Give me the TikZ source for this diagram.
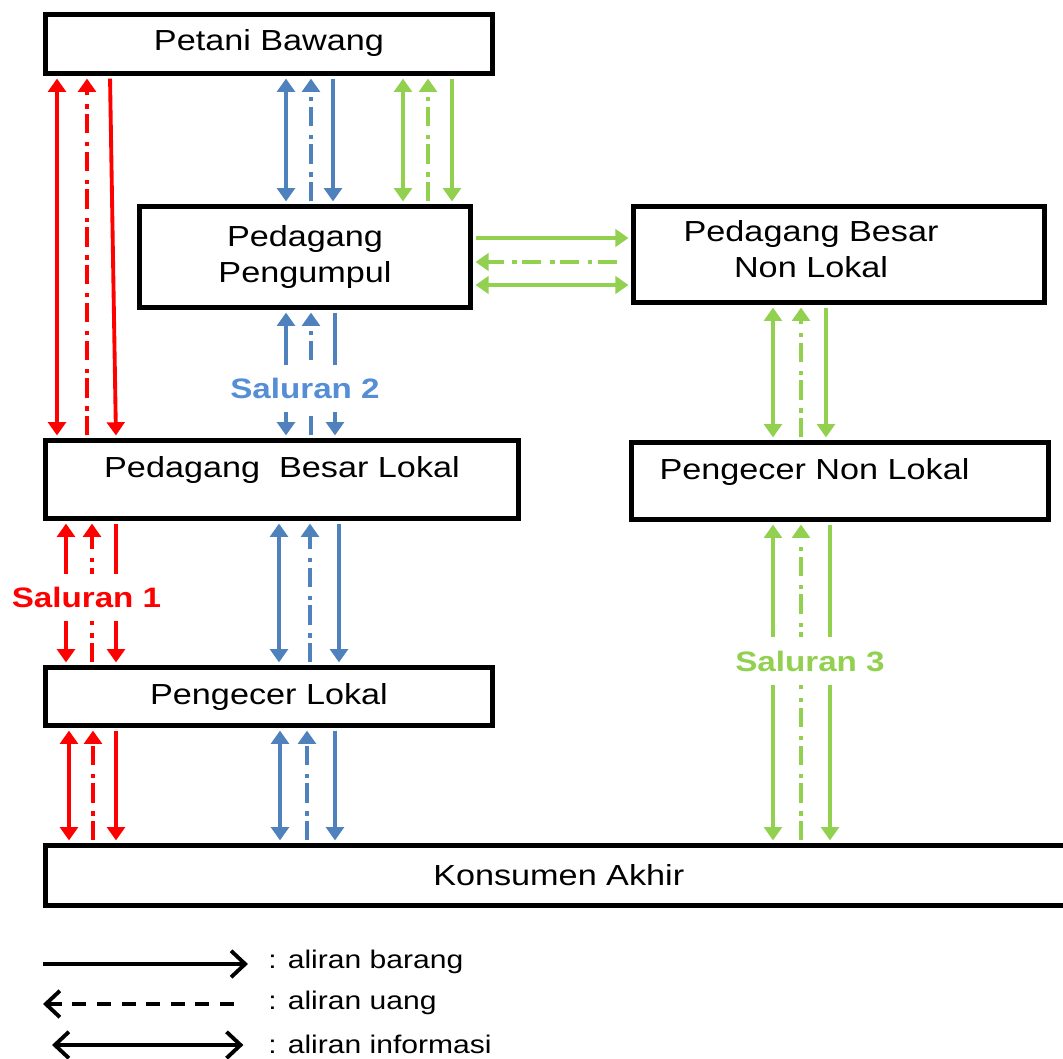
\documentclass[tikz,border=0pt]{standalone}
\usepackage{fontspec}
\setmainfont{Liberation Sans}[FakeStretch=1.18]
\usetikzlibrary{arrows.meta,calc}
\definecolor{salA}{HTML}{FF0000}
\definecolor{salB}{HTML}{4F81BD}
\definecolor{salBtext}{HTML}{558ED5}
\definecolor{salC}{HTML}{92D050}

\begin{document}
\begin{tikzpicture}[x=0.02cm, y=-0.02cm,
    box/.style={draw, rectangle, line width=2.8pt, align=center, font=\fontsize{16.5}{20.5}\selectfont},
    boxtext/.style={align=center, font=\fontsize{16.5}{20.5}\selectfont},
    flow/.style={line width=2.2pt, shorten <=1.5pt, shorten >=1.5pt},
    barang/.style={flow, -{Triangle[width=10pt,length=7.5pt]}},
    uang/.style={flow, dash pattern=on 11pt off 3pt on 2.5pt off 5pt, -{Triangle[width=10pt,length=7.5pt]}},
    info/.style={flow, {Triangle[width=10pt,length=7.5pt]}-{Triangle[width=10pt,length=7.5pt]}},
    saluran/.style={fill=white, inner xsep=2pt, inner ysep=7.5pt, font=\fontsize{16}{19}\selectfont\bfseries},
    legtext/.style={anchor=west, inner sep=0pt, font=\fontsize{14.5}{17}\selectfont},
    legline/.style={line width=2.2pt, black, >={Straight Barb[length=8pt,width=15pt]}}]
    \useasboundingbox (0,0) rectangle (1063,1059);

    \node (petani) [box, minimum width=8.94cm, minimum height=1.18cm, text height=12pt, text depth=5pt] at (269,44) {Petani Bawang};
    \node (pp) [box, minimum width=6.62cm, minimum height=2.02cm] at (305,257) {Pedagang\\Pengumpul};
    \node (pbnl) [box, minimum width=8.22cm, minimum height=1.92cm,
        label={[boxtext, xshift=-15.9pt, yshift=2.8pt]center:{Pedagang Besar\\Non Lokal}}] at (839,254.5) {};
    \node (pbl) [box, minimum width=9.46cm, minimum height=1.56cm, text height=12pt, text depth=14.4pt] at (282,479.5) {Pedagang\ \ Besar Lokal};
    \node (pnl) [box, minimum width=8.34cm, minimum height=1.54cm,
        label={[boxtext, xshift=-14.5pt, yshift=5pt]center:{Pengecer Non Lokal}}] at (840,481) {};
    \node (pl) [box, minimum width=8.94cm, minimum height=1.16cm] at (269,696.5) {Pengecer Lokal};
    \node (kon) [box, minimum width=20.53cm, minimum height=1.2cm] at (558.75,875.5) {Konsumen Akhir};

    % saluran 1
    \draw [info, salA] (petani.south -| 57,0) -- (pbl.north -| 57,0);
    \draw [uang, salA] (pbl.north -| 87,0) -- (petani.south -| 87,0);
    \draw [barang, salA] (petani.south -| 110,0) -- (pbl.north -| 116,0);
    \draw [info, salA] (pbl.south -| 66,0) -- (pl.north -| 66,0);
    \draw [uang, salA] (pl.north -| 92,0) -- (pbl.south -| 92,0);
    \draw [barang, salA] (pbl.south -| 116,0) -- (pl.north -| 116,0);
    \draw [info, salA] (pl.south -| 69,0) -- (kon.north -| 69,0);
    \draw [uang, salA] (kon.north -| 93,0) -- (pl.south -| 93,0);
    \draw [barang, salA] (pl.south -| 116,0) -- (kon.north -| 116,0);

    % saluran 2
    \draw [info, salB] (petani.south -| 286,0) -- (pp.north -| 286,0);
    \draw [uang, salB] (pp.north -| 311,0) -- (petani.south -| 311,0);
    \draw [barang, salB] (petani.south -| 333,0) -- (pp.north -| 333,0);
    \draw [info, salB] (pp.south -| 286,0) -- (pbl.north -| 286,0);
    \draw [uang, salB] (pbl.north -| 311,0) -- (pp.south -| 311,0);
    \draw [barang, salB] (pp.south -| 335,0) -- (pbl.north -| 335,0);
    \draw [info, salB] (pbl.south -| 279,0) -- (pl.north -| 279,0);
    \draw [uang, salB] (pl.north -| 310,0) -- (pbl.south -| 310,0);
    \draw [barang, salB] (pbl.south -| 339,0) -- (pl.north -| 339,0);
    \draw [info, salB] (pl.south -| 280,0) -- (kon.north -| 280,0);
    \draw [uang, salB] (kon.north -| 307,0) -- (pl.south -| 307,0);
    \draw [barang, salB] (pl.south -| 335,0) -- (kon.north -| 335,0);

    % saluran 3
    \draw [info, salC] (petani.south -| 403,0) -- (pp.north -| 403,0);
    \draw [uang, salC] (pp.north -| 428,0) -- (petani.south -| 428,0);
    \draw [barang, salC] (petani.south -| 452,0) -- (pp.north -| 452,0);
    \draw [barang, salC] (pp.east |- 0,238) -- (pbnl.west |- 0,238);
    \draw [uang, salC, shorten <=8pt] (pbnl.west |- 0,262) -- (pp.east |- 0,262);
    \draw [info, salC] (pp.east |- 0,285) -- (pbnl.west |- 0,285);
    \draw [info, salC] (pbnl.south -| 773,0) -- (pnl.north -| 773,0);
    \draw [uang, salC] (pnl.north -| 801,0) -- (pbnl.south -| 801,0);
    \draw [barang, salC] (pbnl.south -| 826,0) -- (pnl.north -| 826,0);
    \draw [info, salC] (pnl.south -| 773,0) -- (kon.north -| 773,0);
    \draw [uang, salC] (kon.north -| 801,0) -- (pnl.south -| 801,0);
    \draw [barang, salC] (pnl.south -| 830,0) -- (kon.north -| 830,0);

    \node (sal1) [saluran, text=salA] at (86.5,597) {Saluran 1};
    \node (sal2) [saluran, text=salBtext] at (305,388) {Saluran 2};
    \node (sal3) [saluran, text=salC] at (810,661) {Saluran 3};

    % legenda
    \node (leg1) [legtext] at (268,962) {: aliran barang};
    \node (leg2) [legtext] at (268,1003) {: aliran uang};
    \node (leg3) [legtext] at (268,1044) {: aliran informasi};
    \coordinate (l1) at (43,964);
    \coordinate (l2) at (43,1004);
    \coordinate (l3) at (52,1045);
    \draw [legline, ->, shorten >=11.4pt] (l1) -- (leg1.west |- l1);
    \draw [legline, <-, dash pattern=on 8pt off 6pt, shorten >=16pt] (l2) -- (leg2.west |- l2);
    \draw [legline, <->, shorten >=14pt] (l3) -- (leg3.west |- l3);
\end{tikzpicture}
\end{document}
